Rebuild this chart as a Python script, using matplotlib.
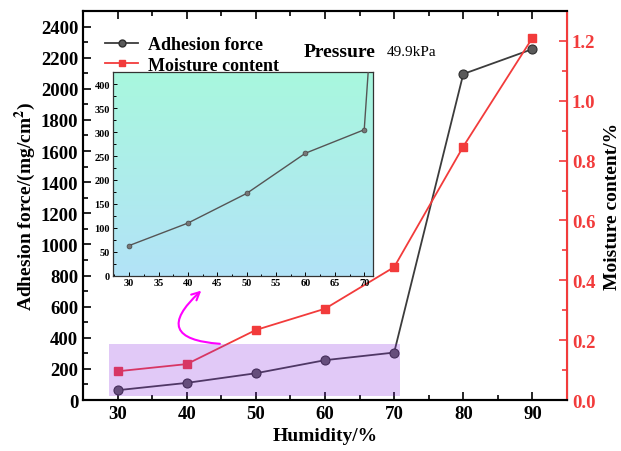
import numpy as np
import matplotlib
matplotlib.use("Agg")
import matplotlib.pyplot as plt
from matplotlib.patches import Rectangle
from matplotlib.ticker import MultipleLocator
from matplotlib.lines import Line2D

plt.rcParams['font.family'] = ['Liberation Serif', 'DejaVu Serif']
plt.rcParams['mathtext.fontset'] = 'stix'

# humidity levels and measured values
humidity = [30, 40, 50, 60, 70, 80, 90]
adhesion = [63, 110, 172, 256, 305, 2095, 2255]
moisture = [0.096, 0.120, 0.234, 0.305, 0.444, 0.847, 1.210]

red = '#f23b3b'
grey = '#3c3c3c'

fig = plt.figure(figsize=(6.21, 4.52), dpi=100)
ax = fig.add_axes([0.1337, 0.1128, 0.913 - 0.1337, 0.9735 - 0.1128])
ax2 = ax.twinx()

# adhesion force on left axis
ax.plot(humidity, adhesion, color=grey, lw=1.3, marker='o', ms=6.5,
        mfc='#5a5a5a', mec='#2e2e2e', mew=0.8, zorder=3)
ax.set_xlim(25, 95)
ax.set_ylim(0, 2500)
ax.xaxis.set_major_locator(MultipleLocator(10))
ax.xaxis.set_minor_locator(MultipleLocator(5))
ax.yaxis.set_major_locator(MultipleLocator(200))
ax.yaxis.set_minor_locator(MultipleLocator(100))
ax.tick_params(which='both', direction='in', top=True, labelsize=13.5, width=1.2)
ax.tick_params(which='major', length=6)
ax.tick_params(which='minor', length=3.5)
for lab in ax.get_xticklabels() + ax.get_yticklabels():
    lab.set_fontweight('bold')
ax.set_xticks([30, 40, 50, 60, 70, 80, 90])
ax.set_xticklabels([str(h) for h in [30, 40, 50, 60, 70, 80, 90]], fontweight='bold')
ax.set_xlabel('Humidity/%', fontsize=14, fontweight='bold', labelpad=4)
ax.set_ylabel('Adhesion force/(mg/cm$^\\mathbf{2}$)', fontsize=14, fontweight='bold', labelpad=2)
for s in ['left', 'bottom', 'top']:
    ax.spines[s].set_linewidth(1.5)
    ax2.spines[s].set_linewidth(1.5)

# moisture content on right axis
ax2.plot(humidity, moisture, color=red, lw=1.3, marker='s', ms=6,
         mfc=red, mec=red, zorder=3)
ax2.set_ylim(0, 1.3)
ax2.yaxis.set_major_locator(MultipleLocator(0.2))
ax2.yaxis.set_minor_locator(MultipleLocator(0.1))
ax2.tick_params(which='both', direction='in', colors=red, labelsize=13.5, width=1.2)
ax2.tick_params(which='major', length=6)
ax2.tick_params(which='minor', length=3.5)
ax2.set_yticks(np.arange(0, 1.21, 0.2))
ax2.set_yticklabels(['%.1f' % v for v in np.arange(0, 1.21, 0.2)], fontweight='bold', color=red)
ax2.spines['right'].set_color(red)
ax2.spines['right'].set_linewidth(1.5)
ax2.set_ylabel('Moisture content/%', fontsize=14, fontweight='bold', labelpad=6)

# highlighted region for the low humidity points
rect = Rectangle((28.8, 28), 42.0, 330, transform=ax.transData,
                 facecolor='#8a2be2', alpha=0.25, edgecolor='none', zorder=5)
ax2.add_patch(rect)

# curved arrow from highlighted region to inset
ax2.annotate('', xy=(42.4, 715), xytext=(45.2, 360),
             xycoords=ax.transData, textcoords=ax.transData,
             arrowprops=dict(arrowstyle='->', color='magenta', lw=1.5,
                             connectionstyle='arc3,rad=-1.2', mutation_scale=14),
             zorder=6)

ax2.text(0.455, 0.895, 'Pressure', transform=ax2.transAxes, fontsize=14,
         fontweight='bold', va='center', ha='left')
ax2.text(0.628, 0.895, '49.9kPa', transform=ax2.transAxes, fontsize=11,
         va='center', ha='left')

handles = [Line2D([], [], color=grey, lw=1.3, marker='o', ms=5, mfc='#5a5a5a', mec='#2e2e2e'),
           Line2D([], [], color=red, lw=1.3, marker='s', ms=5, mfc=red, mec=red)]
ax2.legend(handles, ['Adhesion force', 'Moisture content'], loc='upper left',
           bbox_to_anchor=(0.012, 0.977), frameon=False,
           prop={'weight': 'bold', 'size': 13}, handlelength=1.85,
           handletextpad=0.5, labelspacing=0.2, borderaxespad=0.5)

# inset zoom on 30-70 %
axin = fig.add_axes([0.1815, 0.3878, 0.4192, 0.45])
grad = np.linspace(0, 1, 256).reshape(-1, 1)
top_c = np.array([0.66, 0.97, 0.87])
bot_c = np.array([0.70, 0.89, 0.97])
img = top_c[None, None, :] * (1 - grad[:, :, None]) + bot_c[None, None, :] * grad[:, :, None]
axin.imshow(img, extent=[0, 1, 0, 1], transform=axin.transAxes, aspect='auto', zorder=0)
axin.plot(humidity, adhesion, color='#555555', lw=1.0, marker='o', ms=3.5,
          mfc='#777777', mec='#444444', mew=0.5, zorder=3)
axin.set_xlim(27.2, 71.5)
axin.set_ylim(0, 425)
axin.xaxis.set_major_locator(MultipleLocator(5))
axin.xaxis.set_minor_locator(MultipleLocator(2.5))
axin.yaxis.set_major_locator(MultipleLocator(50))
axin.yaxis.set_minor_locator(MultipleLocator(25))
axin.tick_params(which='both', direction='in', labelsize=7.5, width=0.7, pad=2)
axin.tick_params(which='major', length=3)
axin.tick_params(which='minor', length=1.8)
for lab in axin.get_xticklabels() + axin.get_yticklabels():
    lab.set_fontweight('bold')
for s in axin.spines.values():
    s.set_linewidth(0.9)
    s.set_color('#333333')

fig.savefig('out.png', dpi=100)
